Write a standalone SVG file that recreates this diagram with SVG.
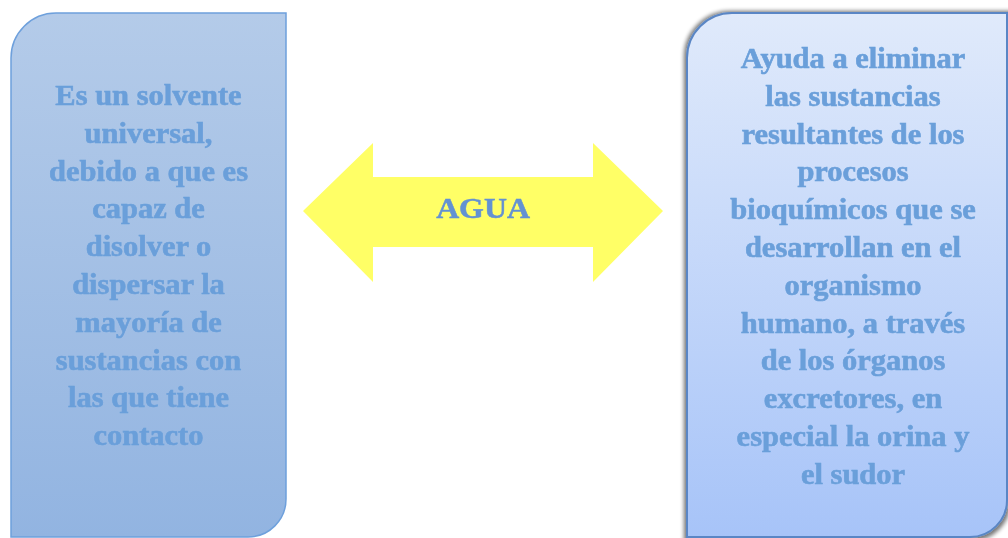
<svg xmlns="http://www.w3.org/2000/svg" width="1008" height="538" viewBox="0 0 1008 538">
  <defs>
    <linearGradient id="gradLeft" x1="0" y1="0" x2="0" y2="1">
      <stop offset="0" stop-color="#b4cbe9"/>
      <stop offset="1" stop-color="#92b4e1"/>
    </linearGradient>
    <linearGradient id="gradRight" x1="0" y1="0" x2="0" y2="1">
      <stop offset="0" stop-color="#e0eafb"/>
      <stop offset="1" stop-color="#a6c3f8"/>
    </linearGradient>
    <filter id="boxShadow" x="-10%" y="-10%" width="120%" height="120%">
      <feMorphology in="SourceAlpha" operator="dilate" radius="1.5" result="grow"/>
      <feGaussianBlur in="grow" stdDeviation="2" result="blur"/>
      <feOffset in="blur" dx="0" dy="1" result="off"/>
      <feComponentTransfer in="off" result="shadow">
        <feFuncA type="linear" slope="0.55"/>
      </feComponentTransfer>
      <feMerge>
        <feMergeNode in="shadow"/>
        <feMergeNode in="SourceGraphic"/>
      </feMerge>
    </filter>
    <filter id="soft" x="-5%" y="-5%" width="110%" height="110%">
      <feGaussianBlur stdDeviation="0.5"/>
    </filter>
  </defs>
  <style>
    .label { font-family: "Liberation Serif", "Times New Roman", serif; font-weight: bold; font-size: 28.5px; text-anchor: middle; fill: #6a9fda; stroke: #6a9fda; stroke-width: 0.6px; }
    .agua { font-family: "Liberation Serif", "Times New Roman", serif; font-weight: bold; font-size: 29.5px; text-anchor: middle; fill: #6492d2; stroke: #6492d2; stroke-width: 0.5px; }
  </style>

  <rect width="1008" height="538" fill="#ffffff"/>

  <!-- connector: double-headed arrow -->
  <g id="connectors">
    <polygon points="303,211 373,143 373,177 593,177 593,143 663,211 593,282 593,247 373,247 373,282" fill="#ffff66"/>
  </g>

  <!-- central label -->
  <g id="node-agua">
    <g transform="translate(483 0) scale(1.08 1)">
      <text class="agua" x="0" y="218" filter="url(#soft)">AGUA</text>
    </g>
  </g>

  <!-- left box -->
  <g id="node-solvente">
    <path d="M11,537 L11,58 A45,45 0 0 1 56,13 L286,13 L286,499 A38,38 0 0 1 248,537 Z" fill="url(#gradLeft)" stroke="#6ea0dc" stroke-width="1.5"/>
    <g transform="translate(148.5 0) scale(1.07 1)" filter="url(#soft)">
      <text class="label" x="0" y="105">Es un solvente</text>
      <text class="label" x="0" y="142.8">universal,</text>
      <text class="label" x="0" y="180.6">debido a que es</text>
      <text class="label" x="0" y="218.4">capaz de</text>
      <text class="label" x="0" y="256.2">disolver o</text>
      <text class="label" x="0" y="294">dispersar la</text>
      <text class="label" x="0" y="331.8">mayoría de</text>
      <text class="label" x="0" y="369.6">sustancias con</text>
      <text class="label" x="0" y="407.4">las que tiene</text>
      <text class="label" x="0" y="445.2">contacto</text>
    </g>
  </g>

  <!-- right box -->
  <g id="node-elimina">
    <path d="M687,545 L687,58 A45,45 0 0 1 732,13 L1012,13 L1007,13 L1007,500 A37,37 0 0 1 970,537 L687,537 Z" fill="url(#gradRight)" stroke="#5a86c5" stroke-width="2" filter="url(#boxShadow)"/>
    <g transform="translate(853 0) scale(1.07 1)" filter="url(#soft)">
      <text class="label" x="0" y="68">Ayuda a eliminar</text>
      <text class="label" x="0" y="105.8">las sustancias</text>
      <text class="label" x="0" y="143.6">resultantes de los</text>
      <text class="label" x="0" y="181.4">procesos</text>
      <text class="label" x="0" y="219.2">bioquímicos que se</text>
      <text class="label" x="0" y="257">desarrollan en el</text>
      <text class="label" x="0" y="294.8">organismo</text>
      <text class="label" x="0" y="332.6">humano, a través</text>
      <text class="label" x="0" y="370.4">de los órganos</text>
      <text class="label" x="0" y="408.2">excretores, en</text>
      <text class="label" x="0" y="446">especial la orina y</text>
      <text class="label" x="0" y="483.8">el sudor</text>
    </g>
  </g>
</svg>
